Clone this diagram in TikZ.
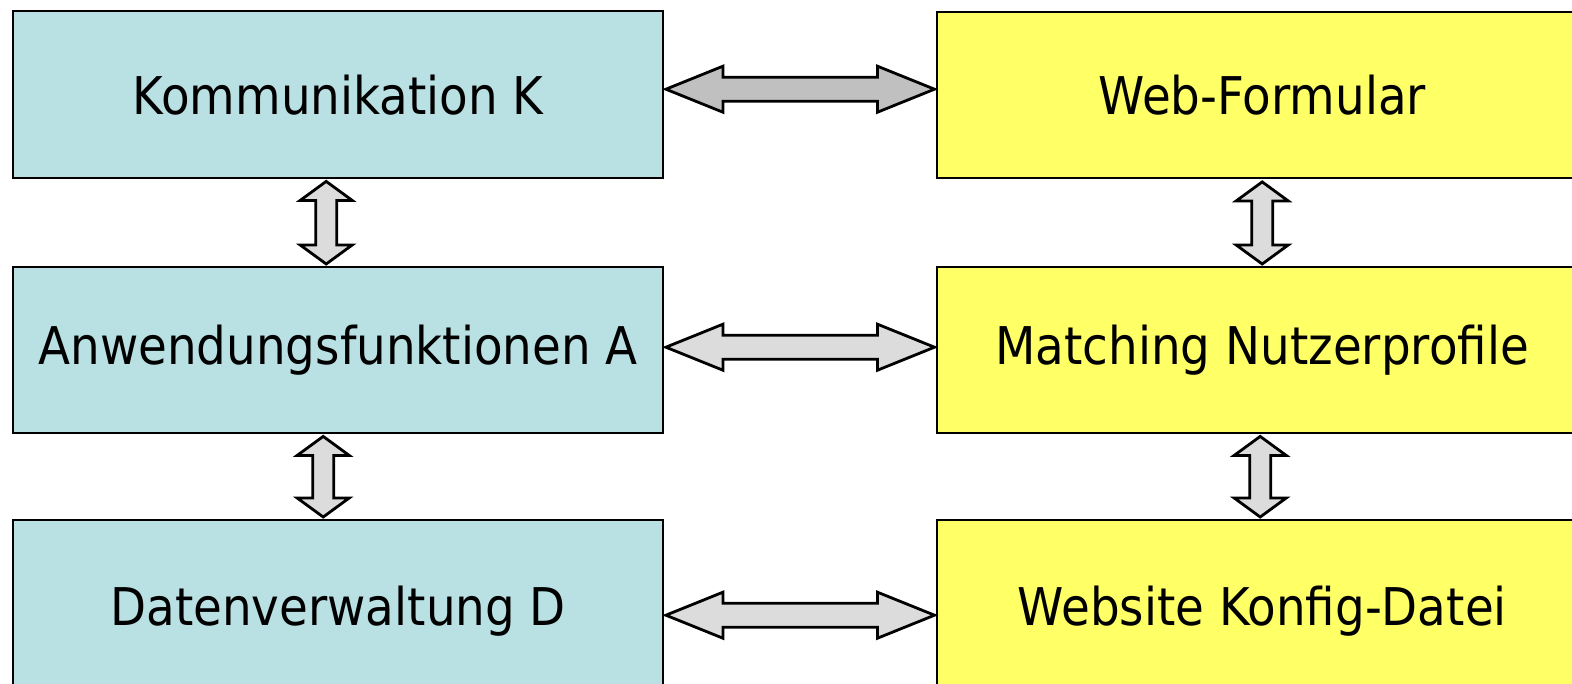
\documentclass[tikz,border=0pt]{standalone}
\usepackage{fontspec}
\setmainfont{DejaVu Sans}[FakeStretch=0.9]
\usetikzlibrary{calc}
\definecolor{boxcyan}{HTML}{B9E0E3}
\definecolor{boxyellow}{HTML}{FFFF66}
\definecolor{arrowdark}{HTML}{C0C0C0}
\definecolor{arrowlight}{HTML}{DCDCDC}
\tikzset{
  block/.style={draw=black, line width=2.4pt, rectangle, anchor=north west,
    minimum width=650pt, inner sep=0pt, font=\fontsize{52}{60}\selectfont},
  cyanblock/.style={block, fill=boxcyan},
  yellowblock/.style={block, fill=boxyellow},
  fatarrow/.style={draw=black, line width=2.8pt, line join=miter}
}
% horizontal double arrow: left tip, right tip, fill
\newcommand\hfatarrow[3]{%
  \draw[fatarrow, fill=#3] (#1) -- ++(57,-23) -- ++(0,11) -- ($(#2)+(-57,-12)$)
    -- ++(0,-11) -- (#2) -- ++(-57,23) -- ++(0,-11) -- ($(#1)+(57,12)$)
    -- ++(0,11) -- cycle;}
% vertical double arrow: top tip, bottom tip, fill
\newcommand\vfatarrow[3]{%
  \draw[fatarrow, fill=#3] (#1) -- ++(26,19) -- ++(-15.5,0) -- ($(#2)+(10.5,-19)$)
    -- ++(15.5,0) -- (#2) -- ++(-26,-19) -- ++(15.5,0) -- ($(#1)+(-10.5,19)$)
    -- ++(-15.5,0) -- cycle;}
\begin{document}
\begin{tikzpicture}[x=1pt, y=-1pt]
\useasboundingbox (0,0) rectangle (1572,683);
\begin{scope}
\clip (0,0) rectangle (1572,683);
% left column
\node[cyanblock, minimum height=167pt] (K) at (12,10) {Kommunikation K};
\node[cyanblock, minimum height=166pt] (A) at (12,266) {Anwendungsfunktionen A};
\node[cyanblock, minimum height=181pt] (D) at (12,519) {Datenverwaltung D};
% right column
\node[yellowblock, minimum height=166pt] (W) at (936,11) {Web-Formular};
\node[yellowblock, minimum height=166pt] (M) at (936,266) {Matching Nutzerprofile};
\node[yellowblock, minimum height=181pt] (B) at (936,519) {Website Konfig-Datei};
\end{scope}
% horizontal links
\hfatarrow{$(K.east)+(1.5,-5.5)$}{$(W.west)+(-1.5,-6)$}{arrowdark}
\hfatarrow{$(A.east)+(1.5,-3)$}{$(M.west)+(-1.5,-3)$}{arrowlight}
\hfatarrow{$(D.east)+(1.5,4.5)$}{$(B.west)+(-1.5,4.5)$}{arrowlight}
% vertical links
\vfatarrow{$(K.south)+(-12,2)$}{$(A.north)+(-12,-2)$}{arrowlight}
\vfatarrow{$(A.south)+(-15,2)$}{$(D.north)+(-15,-2)$}{arrowlight}
\vfatarrow{$(W.south)+(0,2.5)$}{$(M.north)+(0,-2)$}{arrowlight}
\vfatarrow{$(M.south)+(-2,2)$}{$(B.north)+(-2,-2)$}{arrowlight}
\end{tikzpicture}
\end{document}
